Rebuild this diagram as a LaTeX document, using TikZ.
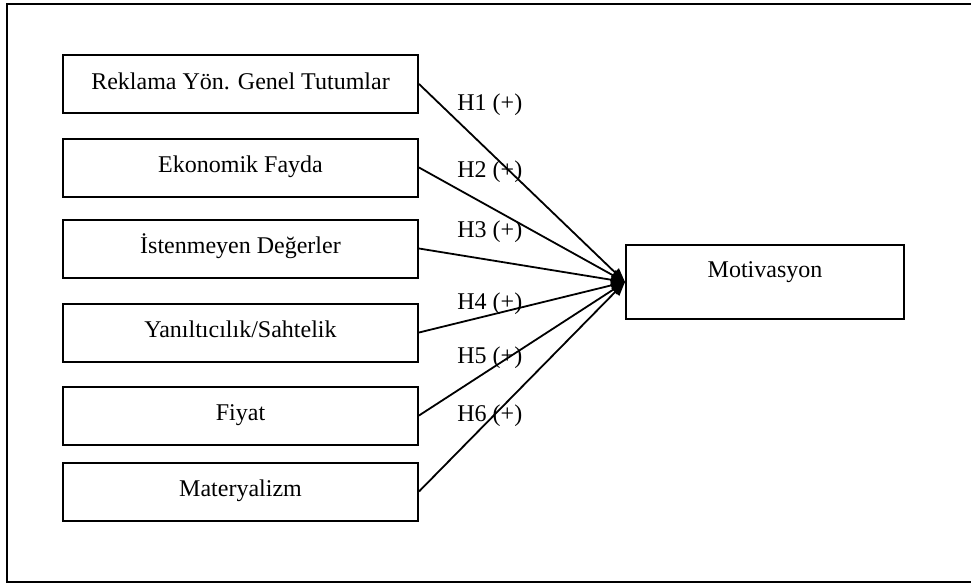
\documentclass[tikz,border=0pt]{standalone}
\usepackage{fontspec}
\setmainfont{Liberation Serif}
\usetikzlibrary{arrows.meta}
\begin{document}
\begin{tikzpicture}[x=0.5pt,y=-0.5pt,
  font=\fontsize{12pt}{14pt}\selectfont,
  factor/.style={draw,line width=1pt,minimum width=177.5pt,minimum height=29pt,
    inner sep=0pt,text height=8pt,text depth=3pt},
  target/.style={draw,line width=1pt,minimum width=139pt,minimum height=37pt,
    inner sep=0pt,text height=8pt,text depth=13pt},
  hyp/.style={anchor=base west,inner sep=0pt},
  link/.style={line width=0.9pt,-{Triangle[length=7pt,width=5.5pt]}}]
\clip (0,0) rectangle (971,584);
\draw[line width=1.1pt] (7,4) rectangle (990,582);
\node[factor] (b1) at (240.5,84) {Reklama Yön. Genel Tutumlar};
\node[factor] (b2) at (240.5,167.5) {Ekonomik Fayda};
\node[factor] (b3) at (240.5,248.5) {İstenmeyen Değerler};
\node[factor] (b4) at (240.5,332.5) {Yanıltıcılık/Sahtelik};
\node[factor] (b5) at (240.5,415.5) {Fiyat};
\node[factor] (b6) at (240.5,491.5) {Materyalizm};
\node[target] (m) at (765,282) {Motivasyon};
\foreach \i in {1,...,6} \draw[link] (b\i.east) -- (m.west);
\node[hyp] (h1) at (457,110) {H1 (+)};
\node[hyp] (h2) at (457,177) {H2 (+)};
\node[hyp] (h3) at (457,237) {H3 (+)};
\node[hyp] (h4) at (457,309) {H4 (+)};
\node[hyp] (h5) at (457,363) {H5 (+)};
\node[hyp] (h6) at (457,421) {H6 (+)};
\end{tikzpicture}
\end{document}
